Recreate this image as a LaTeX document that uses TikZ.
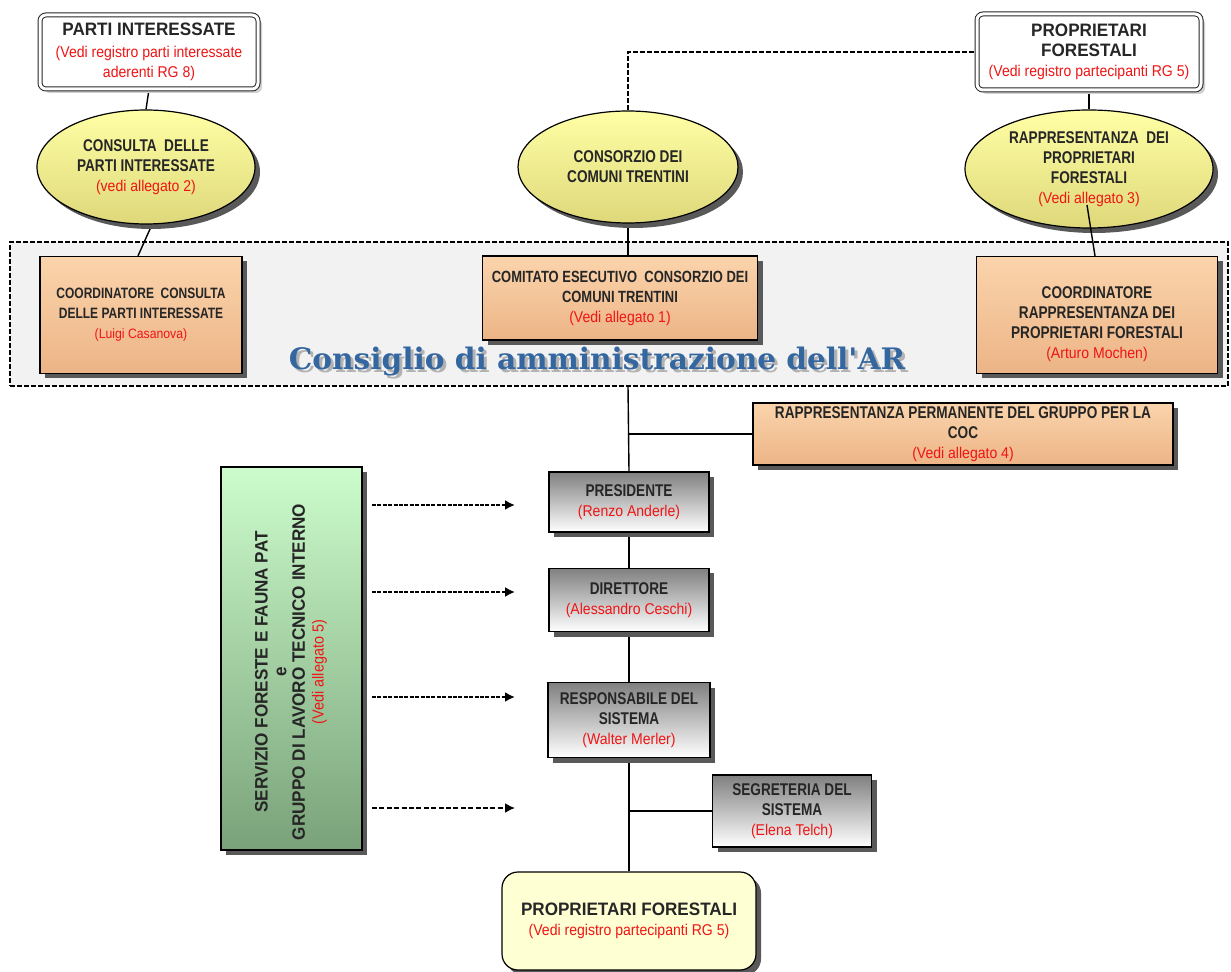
\documentclass[tikz,border=0pt]{standalone}
\usepackage{fontspec}
\setmainfont{Liberation Sans}[FakeStretch=0.8]
\newfontfamily\widefont{Liberation Sans}[FakeStretch=0.95]
\newfontfamily\redfont{Liberation Sans}[FakeStretch=0.9]
\newfontfamily\titlefont{DejaVu Serif}
\usetikzlibrary{shapes.geometric,shadows,arrows.meta,calc,backgrounds}
\definecolor{redtxt}{RGB}{240,20,20}
\definecolor{or1}{RGB}{251,212,172}
\definecolor{or2}{RGB}{236,180,134}
\definecolor{ye1}{RGB}{255,255,165}
\definecolor{ye2}{RGB}{222,216,122}
\definecolor{gr1}{RGB}{204,252,204}
\definecolor{gr2}{RGB}{122,162,122}
\definecolor{pale}{RGB}{255,255,212}
\definecolor{titleblue}{RGB}{52,102,160}
\newcommand\rt[1]{{\redfont\mdseries\color{redtxt}\fontsize{7.8}{10}\selectfont #1}}
\newcommand\rts[1]{{\redfont\mdseries\color{redtxt}\fontsize{6.8}{10}\selectfont #1}}
\newcommand\wt[1]{{\widefont\bfseries\fontsize{9}{11}\selectfont #1}}
\tikzset{
 base/.style={align=center, inner sep=1pt, font=\bfseries\fontsize{8.5}{10}\selectfont, text=black!85},
 shadowd/.style={drop shadow={shadow xshift=2.5pt, shadow yshift=-2.5pt, fill=black!65, opacity=1}},
 orangebox/.style={base, rectangle, draw=black, line width=0.6pt, top color=or1, bottom color=or2, shadowd},
 graybox/.style={base, rectangle, draw=black, line width=0.6pt, top color=black!50, bottom color=white, shadowd},
 yellowell/.style={base, ellipse, draw=black, line width=0.6pt, top color=ye1, bottom color=ye2, shadowd, inner sep=0pt},
 topbox/.style={base, rectangle, rounded corners=3pt, draw=black!85, fill=white, double=white, double distance=1.5pt, line width=0.5pt, drop shadow={shadow xshift=2pt, shadow yshift=-2pt, fill=black!18, opacity=1}},
 greenbox/.style={rectangle, draw=black, line width=0.6pt, top color=gr1, bottom color=gr2, shadowd},
 finalbox/.style={base, rectangle, rounded corners=8pt, draw=black, line width=0.6pt, fill=pale, shadowd},
 cdabox/.style={rectangle, draw=black, line width=0.6pt, dash pattern=on 2.5pt off 1pt, fill=black!5},
 conn/.style={draw=black, line width=0.7pt},
 dashconn/.style={draw=black, line width=0.7pt, dash pattern=on 2.5pt off 1pt},
 arr/.style={draw=black, line width=1pt, dash pattern=on 2pt off 0.7pt, -{Latex[length=5pt,width=5pt]}},
}
\begin{document}
\begin{tikzpicture}[x=0.5pt,y=-0.5pt]
\useasboundingbox (0,0) rectangle (1231,972);
\begin{scope}[on background layer]
\node[cdabox, minimum width=609pt, minimum height=72pt] (cda) at (619,314) {};
\end{scope}

% top boxes
\node[topbox, minimum width=109pt, minimum height=37pt] (pi) at (149,52)
 {\wt{PARTI INTERESSATE}\\[1pt] \rt{(Vedi registro parti interessate}\\ \rt{aderenti RG 8)}};
\node[topbox, minimum width=112pt, minimum height=38pt] (pf) at (1089,52)
 {\wt{PROPRIETARI}\\ \wt{FORESTALI}\\ \rt{(Vedi registro partecipanti RG 5)}};

% ellipses
\node[yellowell, minimum width=109pt, minimum height=57pt] (e1) at (146,167)
 {CONSULTA\ \ DELLE\\PARTI INTERESSATE\\ \rt{(vedi allegato 2)}};
\node[yellowell, minimum width=110pt, minimum height=56pt] (e2) at (628,167)
 {CONSORZIO DEI\\COMUNI TRENTINI};
\node[yellowell, minimum width=124pt, minimum height=59pt] (e3) at (1089,169)
 {RAPPRESENTANZA\ \ DEI\\PROPRIETARI\\FORESTALI\\ \rt{(Vedi allegato 3)}};

% orange boxes
\node[orangebox, minimum width=101pt, minimum height=58.5pt, font=\bfseries\fontsize{7.5}{10}\selectfont] (bA) at (141,315)
 {COORDINATORE\ \ CONSULTA\\DELLE PARTI INTERESSATE\\ \rts{(Luigi Casanova)}};
\node[orangebox, minimum width=137.5pt, minimum height=42pt, font=\bfseries\fontsize{8.1}{10}\selectfont] (bB) at (620,298)
 {COMITATO ESECUTIVO\ \ CONSORZIO DEI\\COMUNI TRENTINI\\ \rt{(Vedi allegato 1)}};
\node[orangebox, minimum width=120.5pt, minimum height=58.5pt, text height=45pt] (bC) at (1097,315)
 {COORDINATORE\\RAPPRESENTANZA DEI\\PROPRIETARI FORESTALI\\ \rt{(Arturo Mochen)}};
\node[orangebox, minimum width=210pt, minimum height=31pt] (bD) at (963,434)
 {RAPPRESENTANZA PERMANENTE DEL GRUPPO PER LA\\COC\\ \rt{(Vedi allegato 4)}};

% title
\node[text=black!30, font=\titlefont\bfseries\fontsize{14.8}{15}\selectfont] (titleshadow) at (600,365) {Consiglio di amministrazione dell'AR};
\node[text=titleblue, font=\titlefont\bfseries\fontsize{14.8}{15}\selectfont] (title) at (597,362) {Consiglio di amministrazione dell'AR};

% gray boxes
\node[graybox, minimum width=80pt, minimum height=30pt] (pres) at (629,502)
 {PRESIDENTE\\ \rt{(Renzo Anderle)}};
\node[graybox, minimum width=80pt, minimum height=31.5pt] (dir) at (629,600)
 {DIRETTORE\\ \rt{(Alessandro Ceschi)}};
\node[graybox, minimum width=81pt, minimum height=37.5pt] (resp) at (629,720)
 {RESPONSABILE DEL\\SISTEMA\\ \rt{(Walter Merler)}};
\node[graybox, minimum width=79.5pt, minimum height=36pt] (seg) at (792,811)
 {SEGRETERIA DEL\\SISTEMA\\ \rt{(Elena Telch)}};
\node[finalbox, minimum width=127pt, minimum height=49pt] (pfb) at (629,921)
 {\wt{PROPRIETARI FORESTALI}\\ \rt{(Vedi registro partecipanti RG 5)}};

% green box
\node[greenbox, minimum width=70.5pt, minimum height=191.5pt] (green) at (291.5,658.5) {};
\node[base, rotate=90, font=\widefont\bfseries\fontsize{9}{9.3}\selectfont] (greentext) at (291,672)
 {SERVIZIO FORESTE E FAUNA PAT\\e\\GRUPPO DI LAVORO TECNICO INTERNO\\ {\redfont\mdseries\color{redtxt}\fontsize{8}{9.3}\selectfont(Vedi allegato 5)}};

% arrows
\coordinate (a1s) at (372,505); \coordinate (a1e) at (515,505);
\coordinate (a2s) at (372,592); \coordinate (a2e) at (515,592);
\coordinate (a3s) at (372,697); \coordinate (a3e) at (515,697);
\coordinate (a4s) at (372,808); \coordinate (a4e) at (515,808);
\draw[arr] (a1s) -- (a1e);
\draw[arr] (a2s) -- (a2e);
\draw[arr] (a3s) -- (a3e);
\draw[arr, line width=0.8pt, dash pattern=on 2.5pt off 1.2pt] (a4s) -- (a4e);

\begin{scope}[on background layer]
\draw[conn] (pi.south) -- (e1.north);
\draw[conn] ([xshift=3pt]e1.south) -- ([xshift=-1.5pt]bA.north);
\draw[conn] (pf.south) -- (e3.north);
\draw[conn] (e2.south) -- (e2.south |- bB.north);
\draw[dashconn] (e2.north) |- (pf.west);
\draw[conn] (e2.south |- cda.south) -- (pres.north);
\draw[conn] (e2.south |- bD.west) -- (bD.west);
\draw[conn] (pres.south) -- (dir.north);
\draw[conn] (dir.south) -- (resp.north);
\draw[conn] (resp.south) -- (pfb.north);
\draw[conn] (resp.south |- seg.west) -- (seg.west);
\end{scope}
\draw[conn] ([shift={(-2,36)}]e3.center) -- ([shift={(-2,0)}]bC.north);
\end{tikzpicture}
\end{document}
